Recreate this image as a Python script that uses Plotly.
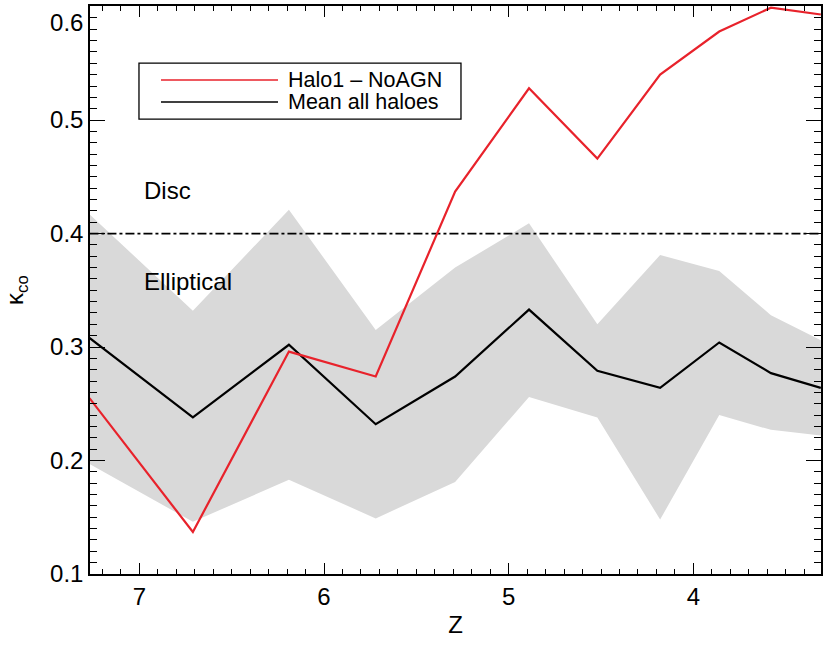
import plotly.graph_objects as go

# Redshift sample points
z = [7.27, 6.71, 6.19, 5.72, 5.29, 4.89, 4.52, 4.18, 3.86, 3.58, 3.31]
# Halo1 - NoAGN
halo1 = [0.255, 0.137, 0.296, 0.274, 0.437, 0.528, 0.466, 0.540, 0.578, 0.599, 0.593]
# Mean of all haloes
mean_all = [0.308, 0.238, 0.302, 0.232, 0.274, 0.333, 0.279, 0.264, 0.304, 0.277, 0.264]
# Scatter band (upper / lower)
band_hi = [0.417, 0.332, 0.421, 0.315, 0.370, 0.409, 0.320, 0.381, 0.367, 0.328, 0.306]
band_lo = [0.197, 0.146, 0.183, 0.149, 0.181, 0.256, 0.238, 0.148, 0.240, 0.227, 0.222]
threshold = 0.4

x_tickvals = [7, 6, 5, 4]
x_ticktext = ["7", "6", "5", "4"]
y_tickvals = [0.1, 0.2, 0.3, 0.4, 0.5, 0.6]
y_ticktext = ["0.1", "0.2", "0.3", "0.4", "0.5", "<br>0.6"]

FONT = "Liberation Sans, Arial, sans-serif"
RED = "#e8222b"

fig = go.Figure()
fig.add_trace(go.Scatter(x=z, y=band_lo, mode="lines", line=dict(width=0),
                         hoverinfo="skip", showlegend=False))
fig.add_trace(go.Scatter(x=z, y=band_hi, mode="lines", line=dict(width=0),
                         fill="tonexty", fillcolor="#d9d9d9",
                         hoverinfo="skip", showlegend=False))
fig.add_trace(go.Scatter(x=[z[0], z[-1]], y=[threshold, threshold], mode="lines",
                         line=dict(color="black", width=1.8, dash="dashdot"),
                         showlegend=False))
fig.add_trace(go.Scatter(x=z, y=mean_all, mode="lines", name="Mean all haloes",
                         line=dict(color="black", width=2.2), showlegend=False))
fig.add_trace(go.Scatter(x=z, y=halo1, mode="lines", name="Halo1 \u2013 NoAGN",
                         line=dict(color=RED, width=2.2), showlegend=False))

# Legend drawn as box + sample lines + text
fig.add_shape(type="rect", xref="paper", yref="paper", x0=0.067, x1=0.5075,
              y0=0.801, y1=0.8996, line=dict(color="black", width=1.3),
              fillcolor="white", layer="above")
fig.add_shape(type="line", xref="paper", yref="paper", x0=0.0971, x1=0.2572,
              y0=0.8697, y1=0.8697, line=dict(color=RED, width=1.5), layer="above")
fig.add_shape(type="line", xref="paper", yref="paper", x0=0.0971, x1=0.2572,
              y0=0.831, y1=0.831, line=dict(color="black", width=1.5), layer="above")
fig.add_annotation(xref="paper", yref="paper", x=0.2675, y=0.8697, xanchor="left",
                   yanchor="middle", text="Halo1 \u2013 NoAGN", showarrow=False,
                   font=dict(size=21.5, color="black", family=FONT))
fig.add_annotation(xref="paper", yref="paper", x=0.2675, y=0.831, xanchor="left",
                   yanchor="middle", text="Mean all haloes", showarrow=False,
                   font=dict(size=21.5, color="black", family=FONT))
fig.add_annotation(xref="paper", yref="paper", x=0.0711, y=0.676, xanchor="left",
                   yanchor="middle", text="Disc", showarrow=False,
                   font=dict(size=24, color="black", family=FONT))
fig.add_annotation(xref="paper", yref="paper", x=0.0711, y=0.5158, xanchor="left",
                   yanchor="middle", text="Elliptical", showarrow=False,
                   font=dict(size=24, color="black", family=FONT))

fig.update_layout(
    width=830, height=646,
    margin=dict(l=90, r=9, t=6, b=72),
    paper_bgcolor="white", plot_bgcolor="white",
    font=dict(family=FONT, size=24, color="black"),
    showlegend=False,
)
fig.update_xaxes(
    range=[7.267, 3.309], showgrid=False, zeroline=False, automargin=False,
    showline=True, linecolor="black", linewidth=1.5, mirror="ticks",
    ticks="inside", ticklen=11, tickwidth=1.3, tickcolor="black",
    tickvals=x_tickvals, ticktext=x_ticktext,
    minor=dict(ticks="inside", ticklen=5, dtick=0.1, tick0=0, tickcolor="black", tickwidth=1.1),
    title=dict(text="Z", standoff=8, font=dict(size=24)),
    tickfont=dict(size=24),
)
fig.update_yaxes(
    range=[0.1, 0.6005], showgrid=False, zeroline=False, automargin=False,
    showline=True, linecolor="black", linewidth=1.5, mirror="ticks",
    ticks="inside", ticklen=15, tickwidth=1.3, tickcolor="black",
    tickvals=y_tickvals, ticktext=y_ticktext, ticklabeloverflow="allow",
    minor=dict(ticks="inside", ticklen=7, dtick=0.01, tick0=0, tickcolor="black", tickwidth=1.1),
    title=dict(text="\u03ba<sub>co</sub>", standoff=20, font=dict(size=24)),
    tickfont=dict(size=24),
)

fig.write_html("out.html", config={"displayModeBar": False},
               post_script="document.body.style.margin='0';")
